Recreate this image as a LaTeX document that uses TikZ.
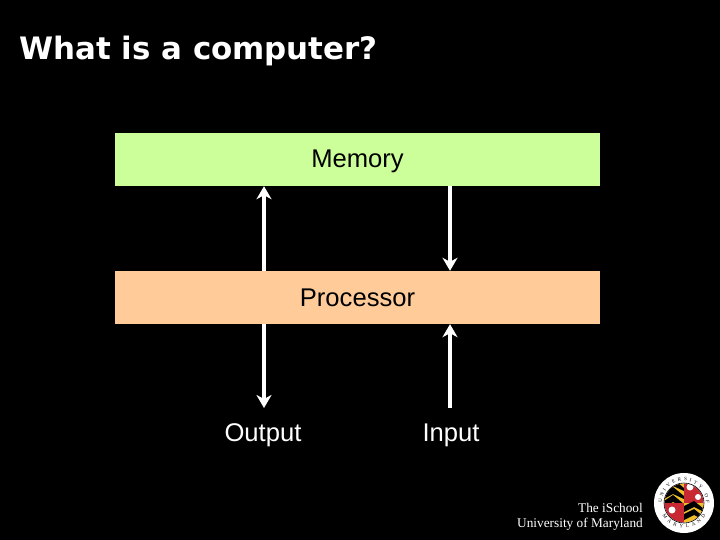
\documentclass[tikz,border=0pt]{standalone}
\usepackage{fontspec}
\setmainfont{Liberation Sans}
\newfontfamily\seriffont{Liberation Serif}
\newfontfamily\titlefont{DejaVu Sans}
\usetikzlibrary{arrows.meta,decorations.text}
\definecolor{memgreen}{RGB}{204,255,153}
\definecolor{procorange}{RGB}{255,204,153}
\definecolor{sealred}{RGB}{200,40,50}
\definecolor{sealyellow}{RGB}{240,190,40}

\begin{document}
\begin{tikzpicture}[x=1pt,y=-1pt,>={Stealth[length=13pt,width=15pt,inset=4pt]}]
  \tikzset{unitbox/.style={minimum width=485pt,minimum height=53pt,inner sep=0pt,text=black,text height=17pt,text depth=0pt,font=\fontsize{25.6}{28}\selectfont},
    label/.style={text=white,inner sep=0pt,anchor=base,font=\fontsize{25.6}{28}\selectfont},
    link/.style={draw=white,line width=3.5pt}}
  \fill[black] (0,0) rectangle (720,540);
  \useasboundingbox (0,0) rectangle (720,540);
  \node[anchor=base west,text=white,inner sep=0pt,font=\fontsize{30.9}{36}\selectfont\titlefont\bfseries] (title) at (19,60) {What is a computer?};
  \node[unitbox,fill=memgreen] (memory) at (357.5,159.5) {Memory};
  \node[unitbox,fill=procorange] (processor) at (357.5,297.5) {Processor};
  \node[label] (output) at (263,441) {Output};
  \node[label] (input) at (451,441) {Input};
  \coordinate (outend) at (264,408);
  \coordinate (inend) at (450,408);
  \draw[link,->] (processor.north -| outend) -- (memory.south -| outend);
  \draw[link,->] (memory.south -| inend) -- (processor.north -| inend);
  \draw[link,->] (processor.south -| outend) -- (outend);
  \draw[link,->] (inend) -- (processor.south -| inend);
  \node[anchor=base east,align=right,text=white,inner sep=0pt,font=\fontsize{13.3}{15}\selectfont\seriffont] (school) at (643,527) {The iSchool\\University of Maryland};
  % seal
  \fill[white] (684,503) circle (30);
  \begin{scope}
    \clip (684,503) circle (19.5);
    \fill[sealyellow] (664,483) rectangle (684,503);
    \foreach \y in {485,493,501}
      \fill[black] (664,\y) -- (673,\y-6) -- (684,\y+3) -- (684,\y+6) -- (673,\y+1) -- (664,\y+6) -- cycle;
    \fill[sealred] (684,483) rectangle (704,503);
    \fill[white] (690,487) circle (3.5) (698,497) circle (3);
    \fill[sealred] (664,503) rectangle (684,523);
    \fill[white] (672,510) circle (3.5);
    \fill[sealyellow] (684,503) rectangle (704,523);
    \foreach \y in {506,514}
      \fill[black] (684,\y) -- (694,\y-5) -- (704,\y+3) -- (704,\y+6) -- (694,\y+1) -- (684,\y+6) -- cycle;
  \end{scope}
  \draw[black,line width=0.6pt] (684,503) circle (20);
  \path[postaction={decorate},decoration={text along path,text align={fit to path},
    text={|\fontsize{5}{6}\selectfont\seriffont|UNIVERSITY OF}}]
    (662,503) arc[start angle=180,end angle=360,radius=22];
  \path[postaction={decorate},decoration={text along path,text align={fit to path},
    text={|\fontsize{5}{6}\selectfont\seriffont|MARYLAND}}]
    (662.35,515.5) arc[start angle=150,end angle=30,radius=25];
\end{tikzpicture}
\end{document}
